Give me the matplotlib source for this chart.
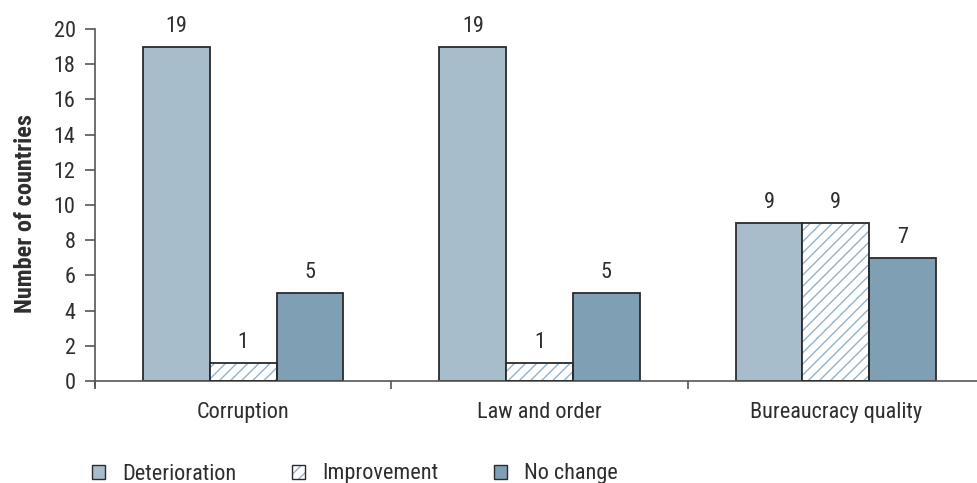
import numpy as np
import matplotlib.pyplot as plt
from matplotlib.patches import Patch

plt.rcParams['font.family'] = ['Roboto Condensed', 'Archivo Narrow', 'DejaVu Sans']
plt.rcParams['hatch.linewidth'] = 1.0

# data
categories = ['Corruption', 'Law and order', 'Bureaucracy quality']
series_names = ['Deterioration', 'Improvement', 'No change']
deterioration = [19, 19, 9]
improvement = [1, 1, 9]
no_change = [5, 5, 7]
y_ticks = [0, 2, 4, 6, 8, 10, 12, 14, 16, 18, 20]

face_colors = ['#a8bdcc', 'white', '#7fa0b4']
hatches = [None, '///', None]
hatch_col = '#93b2cb'
edge = '#2b2b2b'
axis_col = '#555555'
txt = '#2e2e2e'
fs = 16

fig = plt.figure(figsize=(9.77, 4.83), dpi=100)
ax = fig.add_axes([95 / 977, 102 / 483, 889 / 977, 352 / 483])

x = np.arange(len(categories))
w = 0.225
for i, vals in enumerate([deterioration, improvement, no_change]):
    pos = x + (i - 1) * w
    if hatches[i]:
        # hatch drawn in light blue, outline drawn on top in dark
        ax.bar(pos, vals, width=w, color=face_colors[i], edgecolor=hatch_col,
               linewidth=0, hatch=hatches[i], zorder=2)
        ax.bar(pos, vals, width=w, fill=False, edgecolor=edge,
               linewidth=1.3, zorder=3)
    else:
        ax.bar(pos, vals, width=w, color=face_colors[i], edgecolor=edge,
               linewidth=1.3, zorder=2)
    for p, v in zip(pos, vals):
        ax.text(p, v + 0.85, str(v), ha='center', va='baseline',
                fontsize=fs, color=txt)

ax.set_xlim(-0.5, 2.5)
ax.set_ylim(0, 20)
ax.set_yticks(y_ticks)
ax.tick_params(axis='y', labelsize=fs, colors=axis_col, labelcolor=txt,
               length=7, width=1.2, pad=7)
ax.set_xticks(x)
ax.set_xticklabels(categories)
ax.tick_params(axis='x', length=0, labelsize=fs, labelcolor=txt, pad=15)
ax.set_xticks([-0.5, 0.5, 1.5], minor=True)
ax.tick_params(axis='x', which='minor', length=6, width=1.2, colors=axis_col)

for s in ['top', 'right']:
    ax.spines[s].set_visible(False)
for s in ['left', 'bottom']:
    ax.spines[s].set_color(axis_col)
    ax.spines[s].set_linewidth(1.2)
ax.spines['left'].set_bounds(-0.35, 20)

ax.set_ylabel('Number of countries', fontsize=17.5, fontweight='bold',
              color=txt, labelpad=12)
ax.yaxis.label.set_y(0.475)

# legend: hatched entry gets a dark outline over the light hatch
handles = []
for i in range(3):
    if hatches[i]:
        handles.append((Patch(facecolor=face_colors[i], edgecolor=hatch_col,
                              hatch=hatches[i], linewidth=0),
                        Patch(fill=False, edgecolor=edge, linewidth=1)))
    else:
        handles.append(Patch(facecolor=face_colors[i], edgecolor=edge,
                             linewidth=1))
leg = fig.legend(handles, series_names, loc='center left',
                 bbox_to_anchor=(92 / 977, 1 - 474 / 483), ncol=3,
                 frameon=False, fontsize=fs, borderpad=0, borderaxespad=0,
                 handlelength=0.59, handleheight=0.59,
                 handletextpad=0.77, columnspacing=2.5)
for t in leg.get_texts():
    t.set_color(txt)

fig.savefig('out.png', dpi=100)
